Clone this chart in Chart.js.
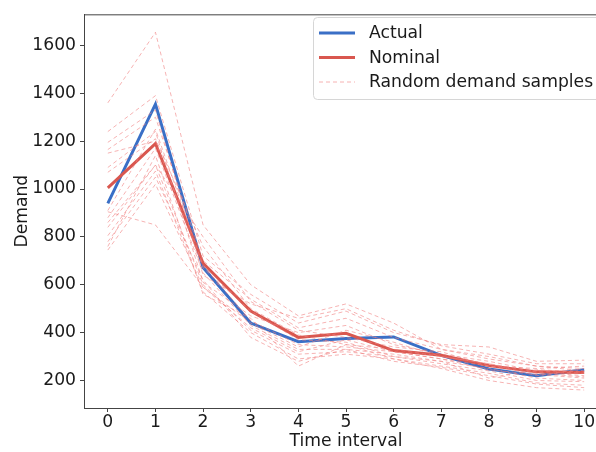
<!DOCTYPE html>
<html>
<head>
<meta charset="utf-8">
<script src="https://cdn.jsdelivr.net/npm/chart.js@4.4.1/dist/chart.umd.min.js"></script>
<style>
    html, body { margin: 0; padding: 0; background: #fff; overflow: hidden; }
    #wrap { width: 620px; height: 452px; }
</style>
</head>
<body>
<div id="wrap"><canvas id="demandChart" width="620" height="452"></canvas></div>
<script>
const timeIntervals = [0, 1, 2, 3, 4, 5, 6, 7, 8, 9, 10];
const actualDemand = [940, 1355, 672, 440, 362, 375, 382, 305, 248, 220, 245];
const nominalDemand = [1005, 1190, 690, 490, 380, 397, 325, 305, 262, 236, 233];
const yTicks = [200, 400, 600, 800, 1000, 1200, 1400, 1600];

// sampled demand scenarios (one row per sample)
const sampleDemand = [
    [1360, 1655, 850, 600, 470, 520, 440, 330, 300, 260, 250],
    [1240, 1390, 720, 560, 440, 490, 400, 350, 340, 280, 285],
    [1195, 1330, 640, 520, 460, 500, 410, 345, 310, 270, 270],
    [1165, 1300, 700, 540, 420, 460, 380, 330, 290, 260, 240],
    [1090, 1240, 610, 470, 400, 430, 350, 310, 280, 240, 230],
    [1070, 1210, 760, 500, 390, 350, 330, 300, 270, 235, 220],
    [910, 1250, 680, 450, 350, 340, 320, 290, 260, 230, 215],
    [880, 1170, 650, 430, 330, 330, 310, 280, 250, 210, 200],
    [860, 1100, 600, 410, 310, 320, 300, 270, 240, 200, 195],
    [805, 1075, 570, 400, 290, 310, 290, 260, 230, 190, 180],
    [780, 1050, 620, 380, 280, 330, 280, 255, 220, 185, 170],
    [760, 1140, 560, 460, 260, 350, 290, 250, 200, 170, 160],
    [745, 1020, 590, 440, 340, 410, 360, 300, 270, 220, 250],
    [840, 1100, 800, 530, 410, 380, 340, 320, 260, 250, 260],
    [1150, 1200, 670, 490, 370, 360, 300, 280, 210, 245, 235],
    [905, 850, 590, 420, 320, 370, 320, 290, 245, 225, 210]
];

const BLUE = '#3a6fc6';
const RED = '#d9574f';
const PINK = 'rgba(240,128,128,0.6)';
const FONT = "'DejaVu Sans', sans-serif";
const FONT_SIZE = 17.2;

function toPoints(values) {
    return values.map((v, i) => ({ x: timeIntervals[i], y: v }));
}

const datasets = [
    { label: 'Actual', data: toPoints(actualDemand), borderColor: BLUE, borderWidth: 3, order: 3 },
    { label: 'Nominal', data: toPoints(nominalDemand), borderColor: RED, borderWidth: 3, order: 2 }
];
sampleDemand.forEach((row, k) => {
    datasets.push({
        label: k === 0 ? 'Random demand samples' : '',
        data: toPoints(row),
        borderColor: PINK,
        borderWidth: 1,
        borderDash: [4, 3],
        order: 1
    });
});

// axes box + matplotlib-like legend in the upper right corner
const framePlugin = {
    id: 'frame',
    afterDatasetsDraw(chart) {
        const { ctx, chartArea: a } = chart;
        ctx.save();
        ctx.strokeStyle = '#444';
        ctx.lineWidth = 1;
        ctx.strokeRect(a.left + 0.5, a.top + 0.5, a.right - a.left, a.bottom - a.top);

        const entries = [
            { text: 'Actual', color: BLUE, width: 3, dash: [] },
            { text: 'Nominal', color: RED, width: 3, dash: [] },
            { text: 'Random demand samples', color: PINK, width: 1, dash: [4, 3] }
        ];
        const bx = 313, by = 17, bw = 294, bh = 82;
        ctx.beginPath();
        ctx.roundRect(bx + 0.5, by + 0.5, bw, bh, 4);
        ctx.fillStyle = 'rgba(255,255,255,0.8)';
        ctx.fill();
        ctx.strokeStyle = '#d6d6d6';
        ctx.stroke();

        ctx.font = FONT_SIZE + 'px ' + FONT;
        ctx.textBaseline = 'middle';
        entries.forEach((e, i) => {
            const y = by + 16 + i * 24.5;
            ctx.beginPath();
            ctx.setLineDash(e.dash);
            ctx.strokeStyle = e.color;
            ctx.lineWidth = e.width;
            ctx.moveTo(bx + 6, y);
            ctx.lineTo(bx + 42, y);
            ctx.stroke();
            ctx.setLineDash([]);
            ctx.fillStyle = '#1a1a1a';
            ctx.fillText(e.text, bx + 56, y + 1);
        });
        ctx.restore();
    }
};

new Chart(document.getElementById('demandChart').getContext('2d'), {
    type: 'line',
    data: { datasets: datasets },
    options: {
        responsive: false,
        animation: false,
        layout: { padding: { top: 10, right: 12, left: 12, bottom: 0 } },
        elements: { point: { radius: 0 }, line: { tension: 0 } },
        plugins: {
            legend: { display: false },
            tooltip: { enabled: false }
        },
        scales: {
            x: {
                type: 'linear',
                min: -0.5,
                max: 10.5,
                afterFit: s => { s.height = 44; },
                afterBuildTicks: s => { s.ticks = timeIntervals.map(v => ({ value: v })); },
                ticks: {
                    color: '#1a1a1a',
                    padding: 0,
                    maxRotation: 0,
                    callback: v => String(v),
                    font: { family: FONT, size: FONT_SIZE }
                },
                grid: { drawOnChartArea: false, drawTicks: true, tickLength: 4, color: '#444' },
                border: { display: true, color: '#444' },
                title: {
                    display: true,
                    text: 'Time interval',
                    color: '#1a1a1a',
                    padding: { top: 0, bottom: 0 },
                    font: { family: FONT, size: FONT_SIZE }
                }
            },
            y: {
                min: 85,
                max: 1730,
                afterFit: s => { s.width = 72; },
                afterBuildTicks: s => { s.ticks = yTicks.map(v => ({ value: v })); },
                ticks: {
                    color: '#1a1a1a',
                    padding: 4,
                    callback: v => String(v),
                    font: { family: FONT, size: FONT_SIZE }
                },
                grid: { drawOnChartArea: false, drawTicks: true, tickLength: 4, color: '#444' },
                border: { display: true, color: '#444' },
                title: {
                    display: true,
                    text: 'Demand',
                    color: '#1a1a1a',
                    padding: { top: 0, bottom: 4 },
                    font: { family: FONT, size: FONT_SIZE }
                }
            }
        }
    },
    plugins: [framePlugin]
});
</script>
</body>
</html>
